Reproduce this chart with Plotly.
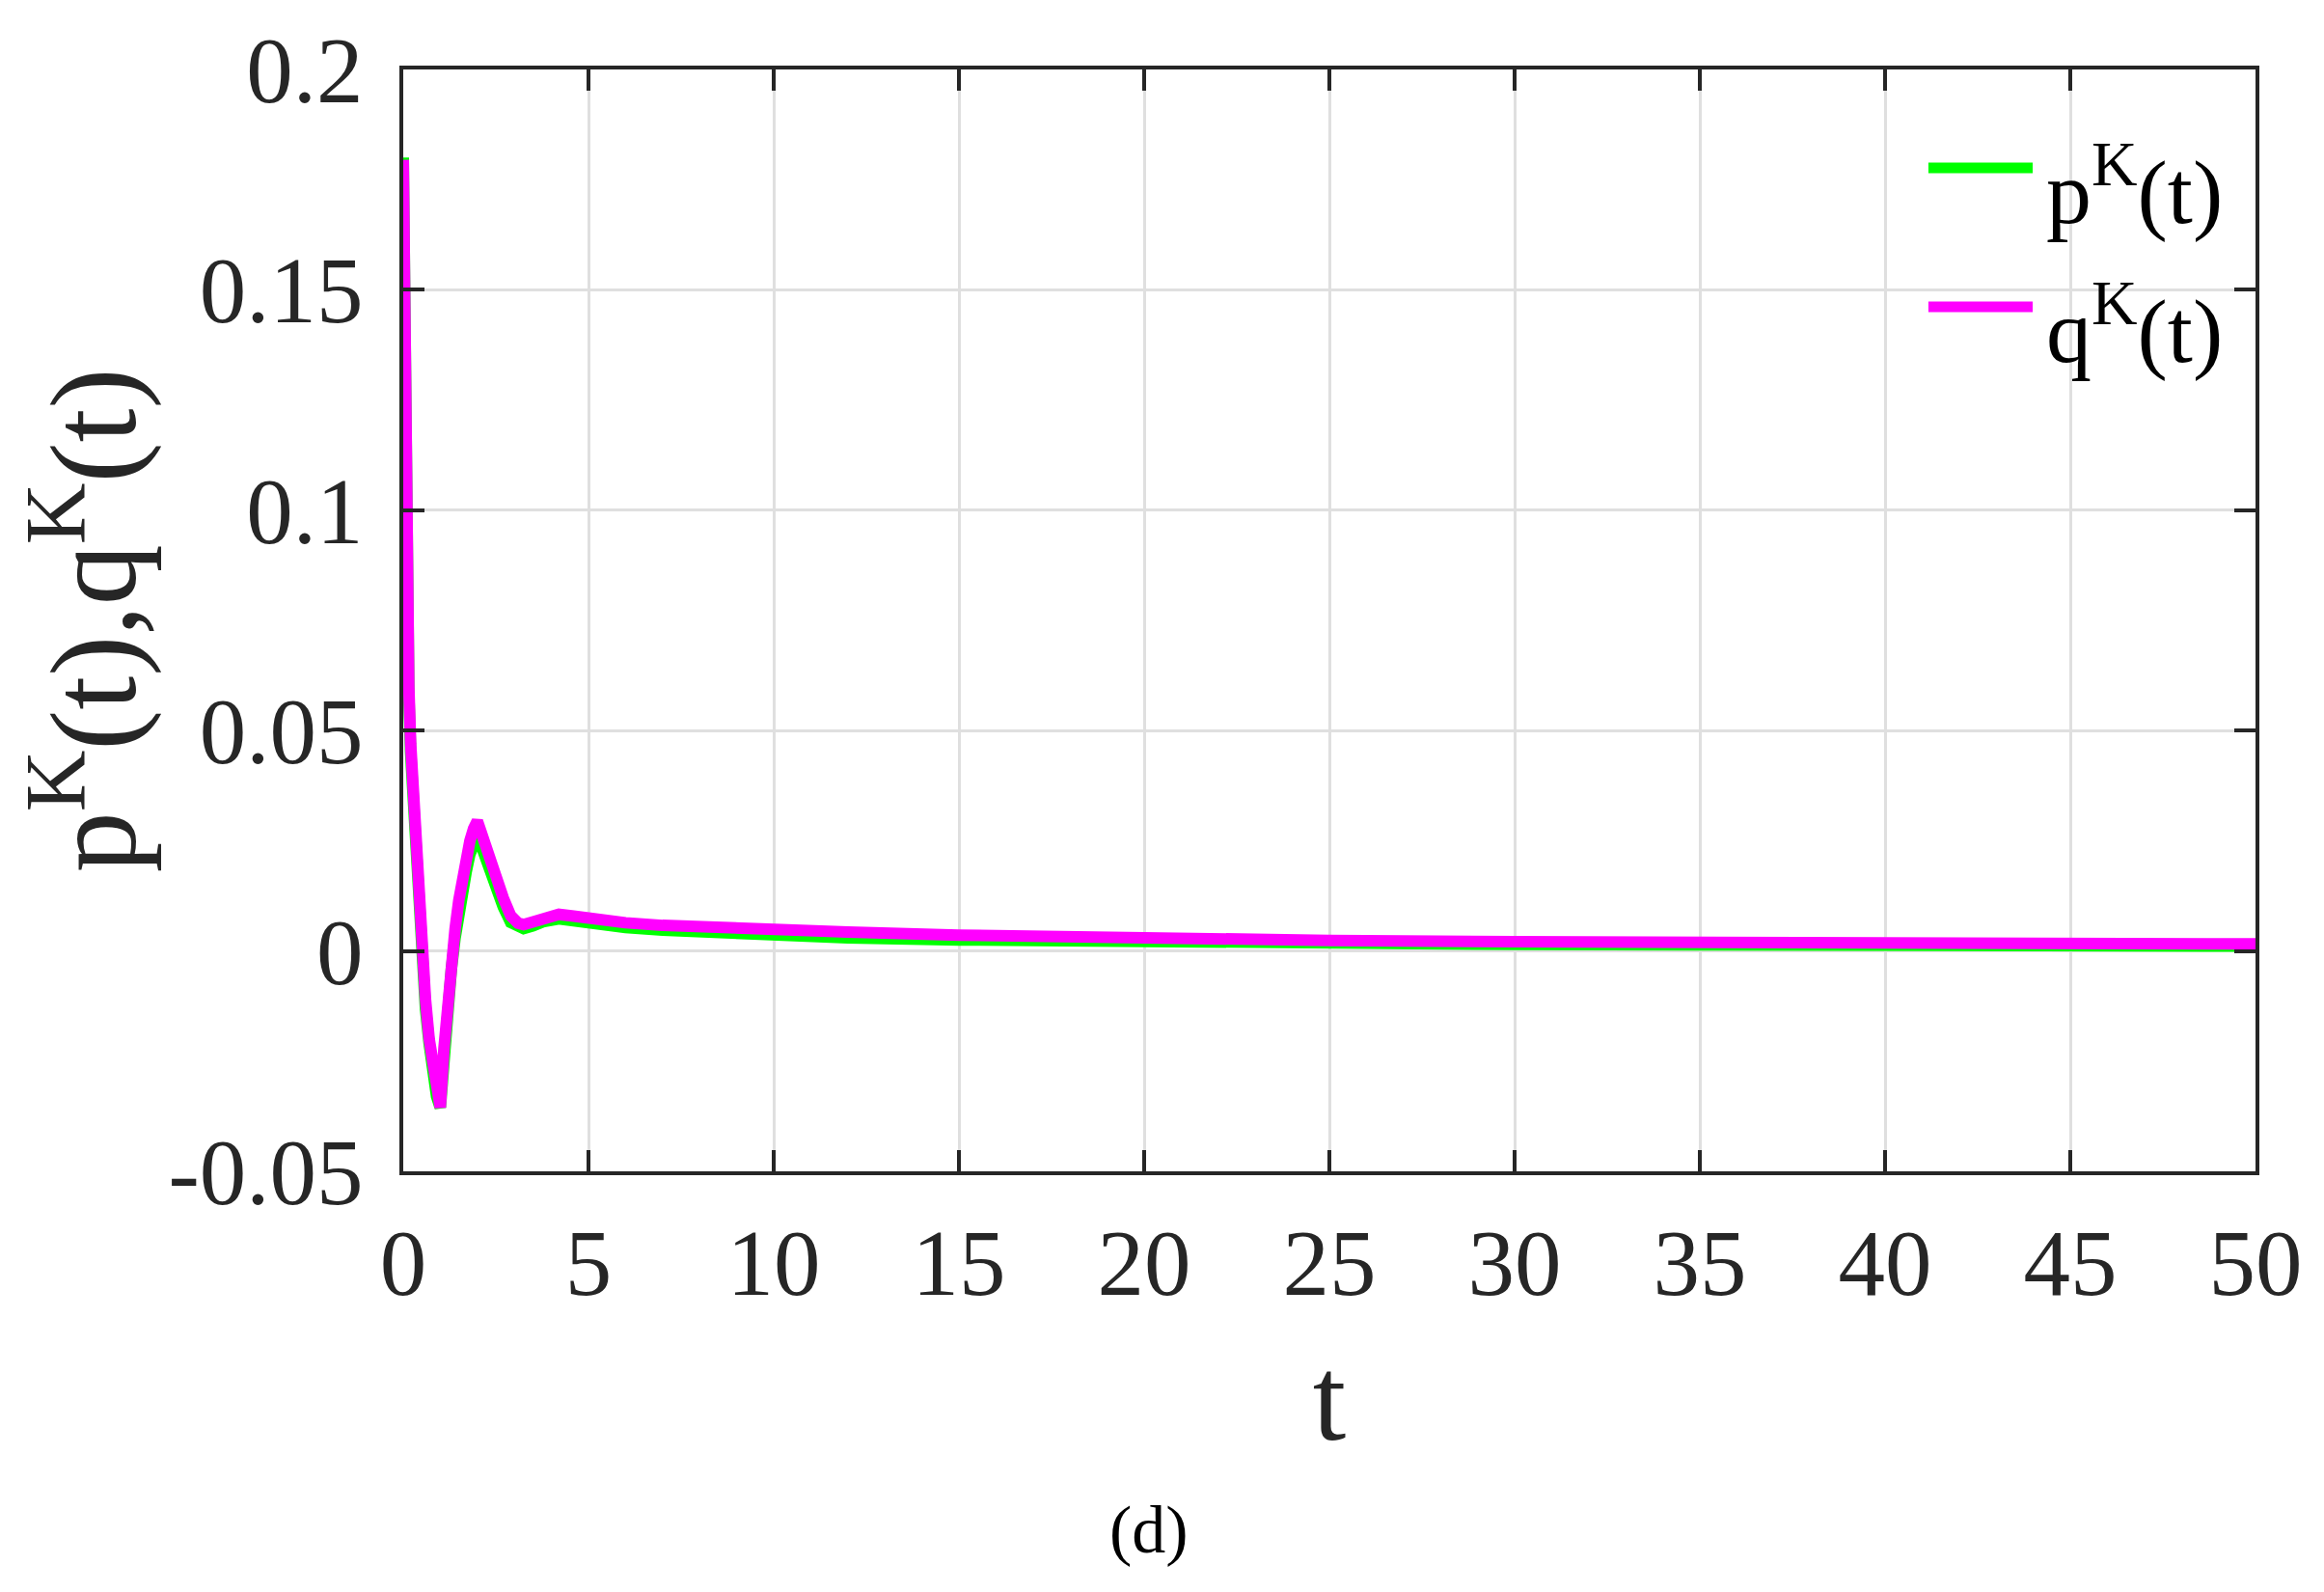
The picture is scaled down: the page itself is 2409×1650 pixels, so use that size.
import plotly.graph_objects as go

# time samples
t = [0, 0.05, 0.1, 0.15, 0.2, 0.3, 0.4, 0.5, 0.6, 0.7, 0.8, 0.9, 1.0,
     1.1, 1.2, 1.3, 1.4, 1.5, 1.6, 1.7, 1.8, 1.9, 2.0, 2.1, 2.3, 2.5,
     2.7, 2.9, 3.1, 3.25, 3.5, 3.8, 4.2, 4.6, 5, 6, 7, 8, 10, 12, 15,
     20, 25, 30, 35, 40, 45, 50]

# p^K(t) (green)
p_vals = [0.18, 0.113, 0.078, 0.058, 0.045, 0.028, 0.013, -0.003, -0.013,
          -0.021, -0.028, -0.033, -0.0355, -0.023, -0.013, -0.004, 0.003,
          0.009, 0.014, 0.018, 0.022, 0.0245, 0.026, 0.024, 0.019, 0.015,
          0.010, 0.0065, 0.0053, 0.0051, 0.0057, 0.0067, 0.0073, 0.0068,
          0.0062, 0.0053, 0.0047, 0.0043, 0.0035, 0.0030, 0.0025, 0.0020,
          0.0017, 0.0015, 0.0014, 0.0013, 0.0012, 0.0011]

# q^K(t) (magenta)
q_vals = [0.1795, 0.115, 0.080, 0.060, 0.047, 0.030, 0.015, -0.001, -0.011,
          -0.020, -0.027, -0.033, -0.0355, -0.022, -0.011, -0.002, 0.005,
          0.0115, 0.017, 0.021, 0.025, 0.0278, 0.0295, 0.027, 0.021, 0.017,
          0.012, 0.008, 0.0063, 0.0060, 0.0066, 0.0076, 0.0083, 0.0079,
          0.0073, 0.0064, 0.0058, 0.0054, 0.0048, 0.0043, 0.0036, 0.0028,
          0.0024, 0.0021, 0.0019, 0.0018, 0.0017, 0.0016]

x_ticks = [0, 5, 10, 15, 20, 25, 30, 35, 40, 45, 50]
y_ticks = [-0.05, 0, 0.05, 0.1, 0.15, 0.2]
y_tick_text = ["-0.05", "0", "0.05", "0.1", "0.15", "0.2"]

series_names = ["p<sup>K</sup>(t)", "q<sup>K</sup>(t)"]
colors = ["#00FF00", "#FF00FF"]

FONT = "Liberation Serif, Times New Roman, serif"
TXT = "#262626"

fig = go.Figure()
for name, vals, col in zip(series_names, [p_vals, q_vals], colors):
    fig.add_trace(go.Scatter(x=t, y=vals, mode="lines", name=name,
                             line=dict(color=col, width=12),
                             showlegend=False))

# custom legend (long line samples like the original)
leg_y = [0.9107, 0.7846]
for name, col, yy in zip(series_names, colors, leg_y):
    fig.add_shape(type="line", xref="paper", yref="paper",
                  x0=0.8234, x1=0.8797, y0=yy, y1=yy,
                  line=dict(color=col, width=11))
    fig.add_annotation(xref="paper", yref="paper", x=0.886, y=yy - 0.016,
                       xanchor="left", yanchor="middle", showarrow=False,
                       text=name, font=dict(family=FONT, size=94, color="black"))

fig.add_annotation(xref="paper", yref="paper", x=0.4026, y=-0.3255,
                   xanchor="center", yanchor="middle", showarrow=False,
                   text="(d)", font=dict(family=FONT, size=70, color="black"))

axis_common = dict(showline=True, linecolor=TXT, linewidth=4, mirror="ticks",
                   ticks="inside", ticklen=22, tickwidth=4, tickcolor=TXT,
                   showgrid=True, gridcolor="#DFDFDF", gridwidth=3,
                   zeroline=False,
                   tickfont=dict(family=FONT, size=97, color=TXT))

fig.update_xaxes(range=[0, 50], tickvals=x_ticks, ticklabelstandoff=8,
                 title=dict(text="t", font=dict(family=FONT, size=124, color=TXT),
                            standoff=44),
                 **axis_common)
fig.update_yaxes(range=[-0.05, 0.2], tickvals=y_ticks, ticktext=y_tick_text,
                 ticklabelstandoff=18,
                 title=dict(text="p<sup>K</sup>(t),q<sup>K</sup>(t)",
                            font=dict(family=FONT, size=126, color=TXT),
                            standoff=17),
                 **axis_common)

fig.update_layout(width=2401, height=1642,
                  margin=dict(l=410, r=71, t=64, b=436, autoexpand=False),
                  paper_bgcolor="white", plot_bgcolor="white",
                  font=dict(family=FONT, color=TXT))

fig.write_html("out.html")
